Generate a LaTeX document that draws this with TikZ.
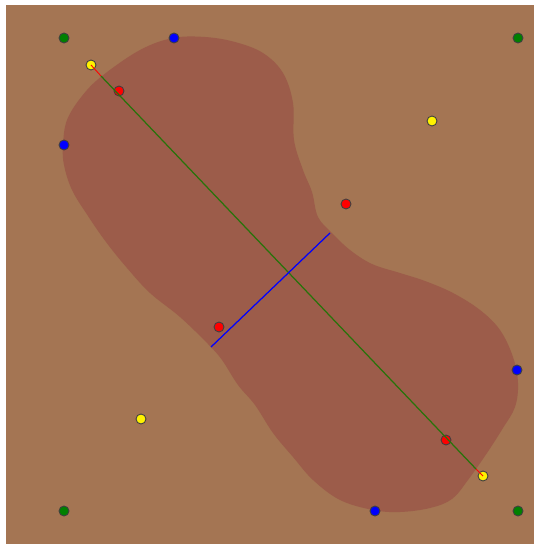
\documentclass[tikz,border=0pt]{standalone}
\usepackage{tikz}
\usepackage{xcolor}

\definecolor{soil}{RGB}{164,117,83}
\definecolor{blob}{RGB}{156,92,74}
\definecolor{leaf}{RGB}{0,128,0}
\definecolor{axisgreen}{RGB}{40,115,10}

\tikzset{
  pt/.style={circle,draw=black!75,line width=0.5pt,inner sep=0pt,minimum size=0.2cm},
  corner/.style={pt,fill=leaf},
  extreme/.style={pt,fill=blue},
  tip/.style={pt,fill=yellow},
  focus/.style={pt,fill=red}
}

\begin{document}
\begin{tikzpicture}[x=0.02cm,y=-0.02cm]
\useasboundingbox (0,0) rectangle (534,544);
\fill[soil] (6,5) rectangle (534,544);
\fill[blob] plot[smooth cycle,tension=0.6] coordinates {
  (67,120) (82,96) (102,76) (140,50) (173,38) (205,37) (235,42) (263,53)
  (283,73) (293,103) (294,140) (303,170) (312,192) (318,217) (332,233)
  (350,250) (372,264) (400,273) (425,281) (453,293) (480,310) (500,330)
  (513,357) (518,383) (515,407) (503,428) (487,453) (468,480) (452,499)
  (430,508) (400,512) (373,510) (340,500) (313,480) (293,457) (273,433)
  (255,405) (238,385) (222,360) (208,344) (180,317) (150,293)
  (127,268) (106,242) (88,216) (72,190) (64,165) (63,145)};
\node[corner] (g1) at (64,38) {};
\node[corner] (g2) at (518,38) {};
\node[corner] (g3) at (64,511) {};
\node[corner] (g4) at (518,511) {};
\node[extreme] (e1) at (174,38) {};
\node[extreme] (e2) at (64,145) {};
\node[extreme] (e3) at (517,370) {};
\node[extreme] (e4) at (375,511) {};
\node[tip] (y1) at (91,65) {};
\node[tip] (y2) at (432,121) {};
\node[tip] (y3) at (141,419) {};
\node[tip] (y4) at (483,476) {};
\node[focus] (r1) at (119,91) {};
\node[focus] (r2) at (346,204) {};
\node[focus] (r3) at (219,327) {};
\node[focus] (r4) at (446,440) {};
\coordinate (m1) at (101,76);
\coordinate (m2) at (476,469);
\coordinate (w1) at (211,347);
\coordinate (w2) at (330,233);
\draw[red,line width=0.5pt] (y1.center) -- (m1);
\draw[red,line width=0.5pt] (m2) -- (y4.center);
\draw[axisgreen,line width=0.7pt] (m1) -- (m2);
\draw[blue,line width=0.7pt] (w1) -- (w2);
\end{tikzpicture}
\end{document}
